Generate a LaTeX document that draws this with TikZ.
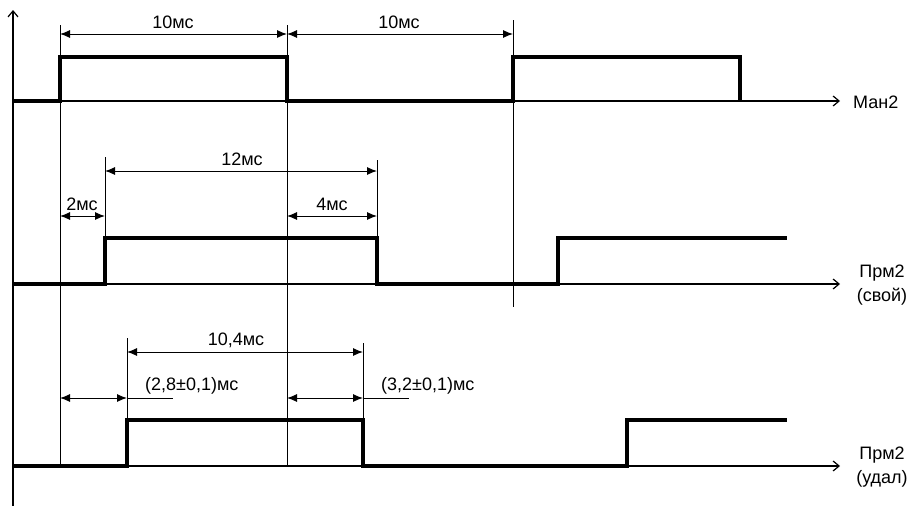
\documentclass[tikz,border=0pt]{standalone}
\usepackage{fontspec}
\setmainfont{Liberation Sans}
\usetikzlibrary{arrows.meta}
\begin{document}
\begin{tikzpicture}[x=1pt,y=-1pt,
  guide/.style={line width=1pt},
  sig/.style={line width=3.2pt, line join=miter},
  dim/.style={line width=1pt, {Latex[length=10pt,width=8pt]}-{Latex[length=10pt,width=8pt]}},
  axis/.style={line width=1.2pt, -{Straight Barb[length=6pt,width=10pt,line width=1.2pt]}},
  lbl/.style={font=\fontsize{18}{20}\selectfont, inner sep=0pt},
  sidelbl/.style={font=\fontsize{18}{24}\selectfont, inner sep=0pt, align=center},
]
\useasboundingbox (0,0) rectangle (913,506);

% axis origins and ends
\coordinate (O) at (13,506);
\coordinate (Otop) at (13,10);
\coordinate (A1) at (13,101);  \coordinate (A1e) at (840,101);
\coordinate (A2) at (13,284);  \coordinate (A2e) at (840,284);
\coordinate (A3) at (13,466);  \coordinate (A3e) at (840,466);

% vertical axis
\draw[axis] (O) -- (Otop);
% horizontal axes
\draw[axis] (A1) -- (A1e);
\draw[axis] (A2) -- (A2e);
\draw[axis] (A3) -- (A3e);

% guide lines
\coordinate (g1t) at (60,25);  \coordinate (g1b) at (60,466);
\coordinate (g2t) at (287,25); \coordinate (g2b) at (287,466);
\coordinate (g3t) at (513,20); \coordinate (g3b) at (513,307);
\coordinate (g4t) at (105,157); \coordinate (g4b) at (105,238);
\coordinate (g5t) at (377,160); \coordinate (g5b) at (377,238);
\coordinate (g6t) at (127,338); \coordinate (g6b) at (127,420);
\coordinate (g7t) at (363,343); \coordinate (g7b) at (363,420);
\draw[guide] (g1t) -- (g1b);
\draw[guide] (g2t) -- (g2b);
\draw[guide] (g3t) -- (g3b);
\draw[guide] (g4t) -- (g4b);
\draw[guide] (g5t) -- (g5b);
\draw[guide] (g6t) -- (g6b);
\draw[guide] (g7t) -- (g7b);

% signals
\draw[sig] (A1) -- (60,101) -- (60,57) -- (287,57) -- (287,101) -- (513,101) -- (513,57) -- (740,57) -- (740,101);
\draw[sig] (A2) -- (105,284) -- (105,238) -- (377,238) -- (377,284) -- (558,284) -- (558,238) -- (787,238);
\draw[sig] (A3) -- (127,466) -- (127,420) -- (363,420) -- (363,466) -- (627,466) -- (627,420) -- (787,420);

% dimension points
\coordinate (d1a) at (60,34);  \coordinate (d1b) at (287,34); \coordinate (d1c) at (513,34);
\coordinate (d2a) at (105,171); \coordinate (d2b) at (377,171);
\coordinate (d3a) at (60,216);  \coordinate (d3b) at (105,216);
\coordinate (d4a) at (287,216); \coordinate (d4b) at (377,216);
\coordinate (d5a) at (127,352); \coordinate (d5b) at (363,352);
\coordinate (d6a) at (60,398);  \coordinate (d6b) at (127,398); \coordinate (d6c) at (173,398);
\coordinate (d7a) at (287,398); \coordinate (d7b) at (363,398); \coordinate (d7c) at (409,398);

\draw[dim] (d1a) -- (d1b);
\draw[dim] (d1b) -- (d1c);
\draw[dim] (d2a) -- (d2b);
\draw[dim] (d3a) -- (d3b);
\draw[dim] (d4a) -- (d4b);
\draw[dim] (d5a) -- (d5b);
\draw[dim] (d6a) -- (d6b);
\draw[guide] (d6b) -- (d6c);
\draw[dim] (d7a) -- (d7b);
\draw[guide] (d7b) -- (d7c);

% labels
\node[lbl] (t1) at (173,22) {10мс};
\node[lbl] (t2) at (399,22) {10мс};
\node[lbl] (t3) at (242,159) {12мс};
\node[lbl] (t4) at (82,204) {2мс};
\node[lbl] (t5) at (332,204) {4мс};
\node[lbl] (t6) at (236,340) {10,4мс};
\node[lbl, anchor=west] (t7) at (145,386) {(2,8±0,1)мс};
\node[lbl, anchor=west] (t8) at (381,386) {(3,2±0,1)мс};

\node[lbl, anchor=west] (s1) at (853,102) {Ман2};
\node[sidelbl] (s2) at (882,285) {Прм2\\(свой)};
\node[sidelbl] (s3) at (882,467) {Прм2\\(удал)};
\end{tikzpicture}
\end{document}
